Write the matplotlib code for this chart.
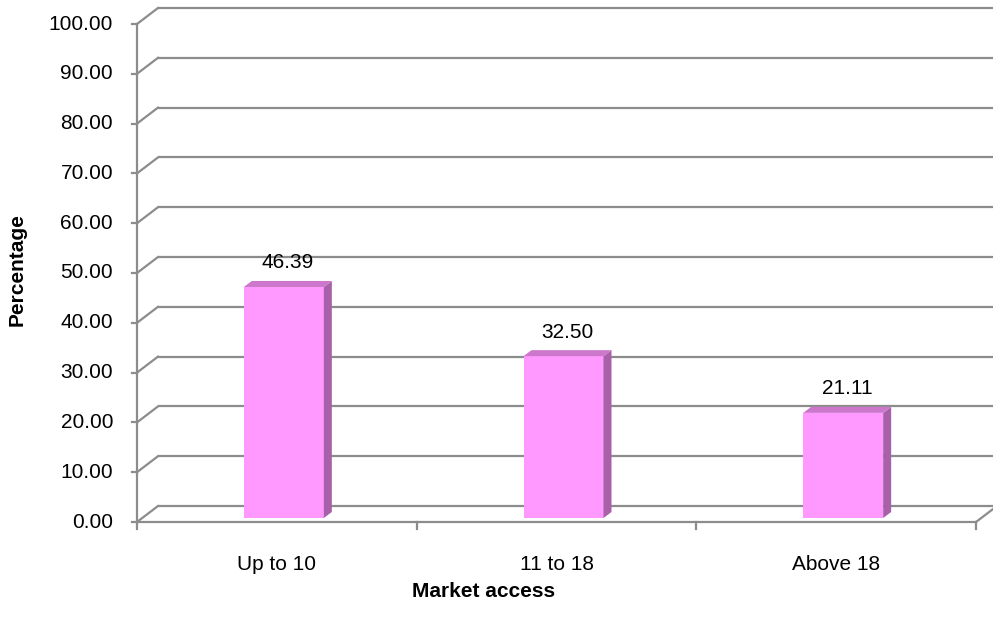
import matplotlib
matplotlib.use("Agg")
import matplotlib.pyplot as plt
from matplotlib.patches import Polygon

categories = ["Up to 10", "11 to 18", "Above 18"]
values = [46.39, 32.50, 21.11]
yticks = [0, 10, 20, 30, 40, 50, 60, 70, 80, 90, 100]
ytick_labels = ["%.2f" % v for v in yticks]
xlabel = "Market access"
ylabel = "Percentage"

W, H, DPI = 993, 625, 100
fig = plt.figure(figsize=(W / DPI, H / DPI), dpi=DPI)
fig.patch.set_facecolor("white")

# front plane of the 3D box, in pixels
x0px, x1px = 137, 976
y0px, y100px = 522, 24
ax = fig.add_axes([x0px / W, (H - y0px) / H, (x1px - x0px) / W, (y0px - y100px) / H])
ax.set_xlim(0, 3)
ax.set_ylim(0, 100)
ax.axis("off")

pxx = (x1px - x0px) / 3.0      # px per category
pxy = (y0px - y100px) / 100.0  # px per unit

def dx(p):
    return p / pxx

def dy(p):
    return p / pxy

FS = 15
FAM = "Liberation Sans"
grid_c = "#8c8c8c"
lw = 1.6
bx, by = dx(21), dy(16)     # back wall offset

# back wall gridlines and left diagonals
for v in yticks:
    ax.plot([bx, 3 + bx], [v + by, v + by], color=grid_c, lw=lw, clip_on=False, solid_capstyle="butt")
    ax.plot([0, bx], [v, v + by], color=grid_c, lw=lw, clip_on=False)
    ax.plot([-dx(5), 0], [v, v], color=grid_c, lw=lw, clip_on=False)
# front axis
ax.plot([0, 0], [0, 100], color=grid_c, lw=lw, clip_on=False)
ax.plot([0, 3], [0, 0], color=grid_c, lw=lw, clip_on=False)
ax.plot([3, 3 + bx], [0, by], color=grid_c, lw=lw, clip_on=False)
for i in range(4):
    ax.plot([i, i], [0, -dy(7)], color=grid_c, lw=lw, clip_on=False)

# y tick labels
for v, t in zip(yticks, ytick_labels):
    ax.text(-dx(24), v, t, ha="right", va="center", fontsize=FS,
            family=FAM, color="black")

# bars
front_c = "#ff99ff"
side_c = "#a860a8"
top_c = "#cc77cc"
bw = dx(80)
ox, oy = dx(7), dy(4)       # bar plane offset
ddx, ddy = dx(8), dy(6)     # bar depth
for i, (c, v) in enumerate(zip(categories, values)):
    xc = i + 0.5 + ox
    xl, xr = xc - bw / 2, xc + bw / 2
    yb, yt = oy, v + oy
    ax.bar([xc], [v], width=bw, bottom=oy, color=front_c, edgecolor="none", zorder=3)
    ax.add_patch(Polygon([(xr, yb), (xr + ddx, yb + ddy), (xr + ddx, yt + ddy), (xr, yt)],
                         closed=True, facecolor=side_c, edgecolor="none", zorder=3))
    ax.add_patch(Polygon([(xl, yt), (xl + ddx, yt + ddy), (xr + ddx, yt + ddy), (xr, yt)],
                         closed=True, facecolor=top_c, edgecolor="none", zorder=3))
    ax.text(xc + ddx / 2, yt + ddy + dy(18), "%.2f" % v, ha="center", va="center",
            fontsize=FS, family=FAM, color="black", zorder=4)
    ax.text(i + 0.5, -dy(48), c, ha="center", va="baseline", fontsize=FS,
            family=FAM, color="black")

fig.text(484 / W, 1 - 597 / H, xlabel, ha="center", va="baseline", fontsize=FS,
         fontweight="bold", family=FAM)
fig.text(17 / W, 1 - 270 / H, ylabel, ha="center", va="center", fontsize=FS,
         fontweight="bold", family=FAM, rotation=90)

fig.savefig("out.png", dpi=DPI, facecolor="white")
